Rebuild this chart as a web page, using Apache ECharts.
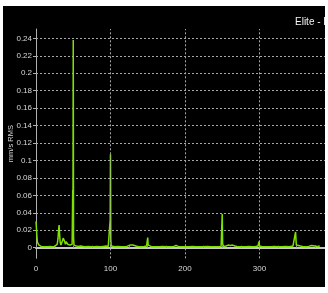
<!DOCTYPE html>
<html><head><meta charset="utf-8">
<script src="https://cdn.jsdelivr.net/npm/echarts@6/dist/echarts.min.js"></script>
<style>
html,body{margin:0;padding:0;background:#fff;width:328px;height:293px;overflow:hidden;}
#c{position:absolute;left:3px;top:6px;width:322px;height:281px;background:#000;}
</style></head>
<body><div id="c"></div>
<script>
const titleText = 'Elite - D';
const yName = 'mm/s RMS';
const xTickLabels = [0, 100, 200, 300];
const xMinorTicks = [0, 25, 50, 75, 100, 125, 150, 175, 200, 225, 250, 275, 300, 325, 350, 375];
const yTickLabels = [0, 0.02, 0.04, 0.06, 0.08, 0.1, 0.12, 0.14, 0.16, 0.18, 0.2, 0.22, 0.24];

const freq = [0, 0.5, 1, 1.5, 2, 3, 4, 5, 7, 10, 13, 16, 19, 22, 25, 27, 28.5, 29.5, 30.5, 31, 31.5, 32.5, 33.5, 34.5, 35.5, 36.5, 37.5, 38.5, 39.5, 40.5, 41.5, 42.5, 43.5, 44.5, 45.5, 46.5, 47.5, 48.5, 49.3, 49.6, 50, 50.4, 51, 52, 54, 57, 60, 63, 66, 70, 74, 78, 82, 86, 90, 94, 97, 99.2, 99.6, 100, 100.4, 101, 103, 106, 110, 114, 118, 122, 126, 128, 130, 132, 134, 137, 141, 145, 148.5, 149.5, 150, 150.6, 152, 156, 160, 165, 170, 175, 180, 185, 188, 191, 195, 200, 205, 210, 215, 220, 225, 230, 235, 240, 245, 248.5, 249.5, 250, 250.6, 252, 255, 258, 261, 264, 267, 270, 274, 278, 282, 286, 290, 294, 298, 299.5, 300, 300.6, 303, 307, 311, 315, 320, 325, 330, 335, 340, 345, 348.5, 349.5, 350, 350.6, 352, 355, 358, 362, 366, 370, 374, 378, 381, 384, 388];
const amp = [0.030, 0.024, 0.016, 0.010, 0.006, 0.004, 0.003, 0.002, 0.0015, 0.001, 0.0012, 0.001, 0.0015, 0.001, 0.0015, 0.002, 0.004, 0.010, 0.022, 0.026, 0.018, 0.006, 0.003, 0.005, 0.008, 0.011, 0.012, 0.007, 0.004, 0.007, 0.008, 0.004, 0.005, 0.005, 0.003, 0.002, 0.002, 0.004, 0.066, 0.020, 0.238, 0.012, 0.003, 0.002, 0.002, 0.0015, 0.002, 0.0015, 0.001, 0.0015, 0.001, 0.0012, 0.0015, 0.001, 0.0015, 0.002, 0.0015, 0.003, 0.032, 0.107, 0.010, 0.002, 0.0015, 0.001, 0.0015, 0.001, 0.0012, 0.0015, 0.003, 0.004, 0.003, 0.004, 0.002, 0.0015, 0.001, 0.0015, 0.002, 0.004, 0.0115, 0.003, 0.0015, 0.001, 0.0012, 0.001, 0.0015, 0.001, 0.0012, 0.0015, 0.0025, 0.0015, 0.001, 0.0012, 0.001, 0.0015, 0.001, 0.0012, 0.001, 0.0015, 0.001, 0.0012, 0.001, 0.0015, 0.003, 0.0386, 0.004, 0.0015, 0.002, 0.003, 0.0025, 0.003, 0.002, 0.0015, 0.001, 0.0012, 0.001, 0.0015, 0.001, 0.0012, 0.002, 0.0073, 0.002, 0.001, 0.0015, 0.001, 0.0012, 0.001, 0.0015, 0.001, 0.0012, 0.0015, 0.001, 0.002, 0.018, 0.003, 0.0015, 0.003, 0.0015, 0.002, 0.0015, 0.001, 0.0015, 0.0025, 0.002, 0.0015, 0.002];

const series = freq.map((f, i) => [f, amp[i]]);
const labelFont = 'Liberation Sans Narrow, Liberation Sans, Arial, sans-serif';

const chart = echarts.init(document.getElementById('c'), null, {renderer: 'canvas'});
chart.setOption({
  backgroundColor: '#000',
  animation: false,
  title: {
    text: titleText, left: 287, top: 6,
    textStyle: {color: '#f4f4f4', fontSize: 10, fontWeight: 'normal', fontFamily: 'Liberation Sans, Arial, sans-serif'}
  },
  grid: {left: 33, right: 0, top: 23, bottom: 28.7, containLabel: false, outerBoundsMode: 'none'},
  xAxis: {
    type: 'value', min: 0, max: 388,
    axisLine: {show: true, lineStyle: {color: '#c8c8c8', width: 2}},
    axisTick: {show: true, inside: true, length: 2, customValues: xMinorTicks, lineStyle: {color: '#9a9a9a'}},
    axisLabel: {customValues: xTickLabels, color: '#d8d8d8', fontSize: 8, fontFamily: labelFont, margin: 6, hideOverlap: false},
    splitLine: {show: false}
  },
  yAxis: {
    type: 'value', min: -0.01215, max: 0.2507,
    name: yName, nameLocation: 'middle', nameGap: 21, nameRotate: 90, nameMoveOverlap: false,
    nameTextStyle: {color: '#d8d8d8', fontSize: 7.5, fontFamily: labelFont},
    axisLine: {show: true, lineStyle: {color: '#b0b0b0', width: 1}},
    axisTick: {show: true, length: 3, customValues: yTickLabels, lineStyle: {color: '#b0b0b0'}},
    axisLabel: {customValues: yTickLabels, color: '#d8d8d8', fontSize: 8, fontFamily: labelFont, margin: 4,
      formatter: v => String(+v.toFixed(2))},
    splitLine: {show: true, lineStyle: {color: '#a8a8a8', type: [2, 2], width: 1}}
  },
  series: [
    {
      type: 'line', data: series, showSymbol: false, symbol: 'none',
      lineStyle: {color: '#7ee000', width: 1.5}, z: 3
    },
    {
      type: 'line', data: [], silent: true,
      markLine: {
        silent: true, symbol: 'none', label: {show: false},
        lineStyle: {color: '#a8a8a8', type: [2, 2], width: 1},
        data: xTickLabels.filter(v => v > 0).map(v => ({xAxis: v}))
      }, z: 1
    }
  ]
});
</script></body></html>
